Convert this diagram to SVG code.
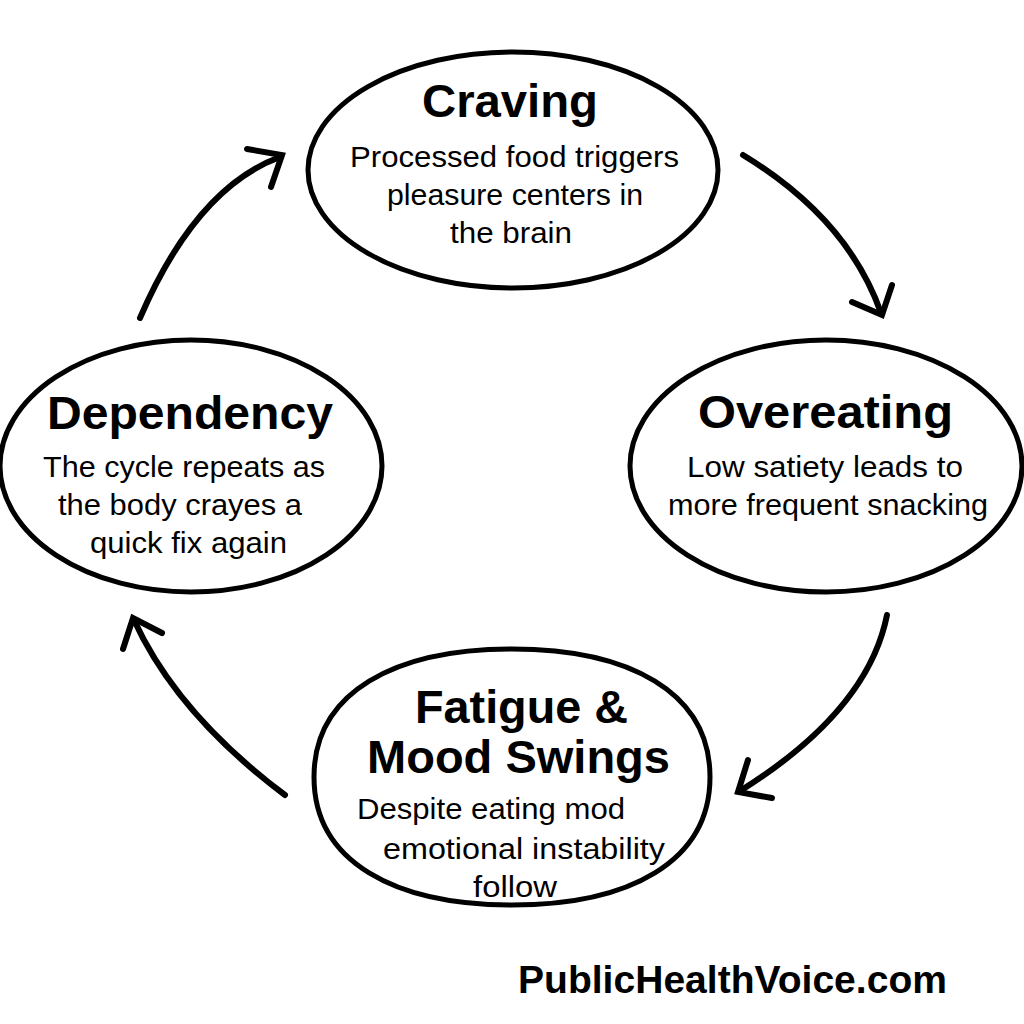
<svg xmlns="http://www.w3.org/2000/svg" width="1024" height="1024" viewBox="0 0 1024 1024">
<style>
.bg{fill:#ffffff}
.node{fill:#ffffff;stroke:#000;stroke-width:5}
.title{font-family:"Liberation Sans",Arial,sans-serif;font-weight:bold;font-size:46px;fill:#000}
.body{font-family:"Liberation Sans",Arial,sans-serif;font-size:29px;fill:#000}
.foot{font-family:"Liberation Sans",Arial,sans-serif;font-weight:bold;font-size:38px;fill:#000}
.conn{fill:none;stroke:#000;stroke-width:6;stroke-linecap:round;stroke-linejoin:miter}
</style>
<rect class="bg" x="0" y="0" width="1024" height="1024"/>
<g id="connectors">
<g id="c-dependency-craving">
<path class="conn" d="M140,318 Q196,188 280,157"/>
<path class="conn" d="M247,149 L282,155 L271,187"/>
</g>
<g id="c-craving-overeating">
<path class="conn" d="M743,155 Q848,219 881,313"/>
<path class="conn" d="M852,302 L882,315 L892,285"/>
</g>
<g id="c-overeating-fatigue">
<path class="conn" d="M887,615 Q868,711 740,791"/>
<path class="conn" d="M748,760 L738,792 L772,798"/>
</g>
<g id="c-fatigue-dependency">
<path class="conn" d="M285,795 Q177,714 134,620"/>
<path class="conn" d="M123,649 L133,618 L162,633"/>
</g>
</g>
<g id="node-craving">
<ellipse class="node" cx="513" cy="170" rx="205" ry="118"/>
<text class="title" x="422" y="117" textLength="176" lengthAdjust="spacingAndGlyphs">Craving</text>
<text class="body" x="350" y="167" textLength="329" lengthAdjust="spacingAndGlyphs">Processed food triggers</text>
<text class="body" x="387" y="205" textLength="256" lengthAdjust="spacingAndGlyphs">pleasure centers in</text>
<text class="body" x="450" y="243" textLength="122" lengthAdjust="spacingAndGlyphs">the brain</text>
</g>
<g id="node-overeating">
<ellipse class="node" cx="826" cy="466" rx="196" ry="126"/>
<text class="title" x="698" y="428" textLength="255" lengthAdjust="spacingAndGlyphs">Overeating</text>
<text class="body" x="687" y="477" textLength="276" lengthAdjust="spacingAndGlyphs">Low satiety leads to</text>
<text class="body" x="668" y="515" textLength="320" lengthAdjust="spacingAndGlyphs">more frequent snacking</text>
</g>
<g id="node-fatigue">
<path class="node" d="M314,777 C314,692 395,649 512,649 C629,649 710,692 710,777 C710,862 629,905 512,905 C395,905 314,862 314,777 Z"/>
<text class="title" x="415" y="723" textLength="213" lengthAdjust="spacingAndGlyphs">Fatigue &amp;</text>
<text class="title" x="367" y="773" textLength="303" lengthAdjust="spacingAndGlyphs">Mood Swings</text>
<text class="body" x="357" y="819" textLength="268" lengthAdjust="spacingAndGlyphs">Despite eating mod</text>
<text class="body" x="383" y="859" textLength="282" lengthAdjust="spacingAndGlyphs">emotional instability</text>
<text class="body" x="473" y="897" textLength="84" lengthAdjust="spacingAndGlyphs">follow</text>
</g>
<g id="node-dependency">
<ellipse class="node" cx="191" cy="466" rx="191" ry="126"/>
<text class="title" x="47" y="429" textLength="286" lengthAdjust="spacingAndGlyphs">Dependency</text>
<text class="body" x="43" y="477" textLength="282" lengthAdjust="spacingAndGlyphs">The cycle repeats as</text>
<text class="body" x="58" y="515" textLength="244" lengthAdjust="spacingAndGlyphs">the body crayes a</text>
<text class="body" x="90" y="553" textLength="197" lengthAdjust="spacingAndGlyphs">quick fix again</text>
</g>
<text class="foot" x="518" y="993" textLength="429" lengthAdjust="spacingAndGlyphs">PublicHealthVoice.com</text>
</svg>
